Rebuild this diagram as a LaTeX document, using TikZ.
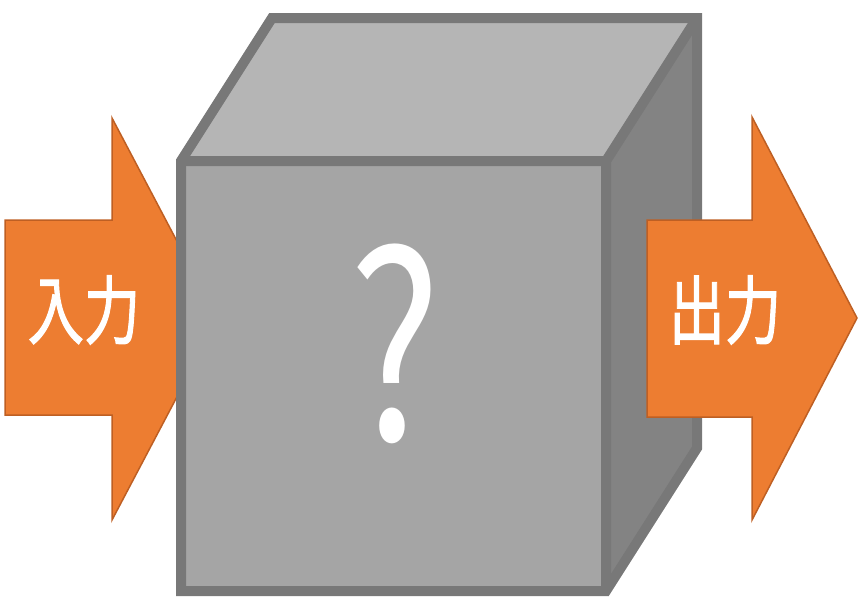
\documentclass[tikz,border=0pt]{standalone}
\usepackage{fontspec}
\usepackage{xcolor}
\usepackage{tikz}
\newfontfamily\cjk{Noto Sans CJK JP}
\newfontfamily\cjkbold[FakeBold=1.6]{Noto Sans CJK JP}
\definecolor{boxfront}{RGB}{165,165,165}
\definecolor{boxtop}{RGB}{181,181,181}
\definecolor{boxside}{RGB}{131,131,131}
\definecolor{boxedge}{RGB}{120,120,120}
\definecolor{arrowfill}{RGB}{237,125,49}
\definecolor{arrowedge}{RGB}{190,95,35}

\begin{document}
\begin{tikzpicture}[
    x=1pt, y=-1pt,
    edge/.style={draw=boxedge, line width=10pt},
    bigarrow/.style={fill=arrowfill, draw=arrowedge, line width=1.5pt},
    label/.style={text=white, font=\cjkbold\fontsize{75}{75}\selectfont, xscale=0.75, transform shape, inner sep=0pt}
]
\useasboundingbox (0,0) rectangle (858,597);

% input arrow (behind the box)
\draw[bigarrow] (5,220) -- (112,220) -- (112,118) -- (218,319) -- (112,520) -- (112,415) -- (5,415) -- cycle;
\node[label] (in) at (84,310) {入力};

% the box: faces, then its edges
\fill[boxtop] (181,161) -- (272,18) -- (697,18) -- (606,161) -- cycle;
\fill[boxside] (606,161) -- (697,18) -- (697,448) -- (606,591) -- cycle;
\fill[boxfront] (181,161) rectangle (606,591);
\draw[edge] (181,161) -- (606,161) -- (697,18) (606,161) -- (606,591);
\draw[edge] (181,161) -- (272,18) -- (697,18) -- (697,448) -- (606,591) -- (181,591) -- cycle;
\node[text=white, font=\cjk\fontsize{258}{258}\selectfont, xscale=0.75, transform shape, inner sep=0pt, anchor=base] (q) at (395,440) {?};

% output arrow (in front of the box)
\draw[bigarrow] (647,220) -- (752,220) -- (752,117) -- (857,318) -- (752,520) -- (752,417) -- (647,417) -- cycle;
\node[label] (out) at (725,310) {出力};
\end{tikzpicture}
\end{document}
